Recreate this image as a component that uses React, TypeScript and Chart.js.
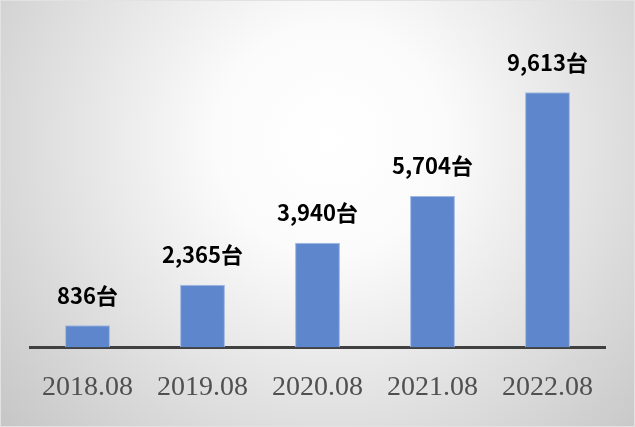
import React, { useEffect, useRef } from "react";
import { Chart, registerables } from "chart.js";

Chart.register(...registerables);

const categories = ["2018.08", "2019.08", "2020.08", "2021.08", "2022.08"];
const values = [836, 2365, 3940, 5704, 9613];
const valueLabels = ["836台", "2,365台", "3,940台", "5,704台", "9,613台"];

const bgPlugin = {
  id: "bgGradient",
  beforeDraw(chart: any) {
    const { ctx, width, height } = chart;
    ctx.save();
    const g = ctx.createRadialGradient(330, 140, 0, 330, 140, 460);
    g.addColorStop(0, "#ffffff");
    g.addColorStop(0.25, "#fbfbfb");
    g.addColorStop(1, "#c2c2c2");
    ctx.fillStyle = g;
    ctx.fillRect(0, 0, width, height);
    ctx.strokeStyle = "#e2e2e2";
    ctx.lineWidth = 1;
    ctx.strokeRect(0.5, 0.5, width - 1, height - 1);
    ctx.restore();
  },
};

const labelPlugin = {
  id: "valueLabels",
  afterDatasetsDraw(chart: any) {
    const { ctx } = chart;
    const meta = chart.getDatasetMeta(0);
    ctx.save();
    ctx.fillStyle = "#000000";
    ctx.font = "bold 22px 'Noto Sans CJK JP', sans-serif";
    ctx.textAlign = "center";
    ctx.textBaseline = "middle";
    meta.data.forEach((bar: any, i: number) => {
      ctx.fillText(valueLabels[i], bar.x, bar.y - 30);
    });
    ctx.restore();
  },
};

export default function App() {
  const ref = useRef<HTMLCanvasElement>(null);
  useEffect(() => {
    document.body.style.margin = "0";
    const chart = new Chart(ref.current!, {
      type: "bar",
      data: {
        labels: categories,
        datasets: [
          {
            data: values,
            backgroundColor: "#5E86CC",
            borderColor: "#9FB7E2",
            borderWidth: { top: 1, left: 1, right: 1, bottom: 0 },
            barPercentage: 0.39,
            categoryPercentage: 1,
          },
        ],
      },
      options: {
        animation: false,
        responsive: false,
        layout: { padding: { left: 30, right: 30, top: 29, bottom: 0 } },
        plugins: { legend: { display: false }, tooltip: { enabled: false } },
        scales: {
          y: { display: false, min: 0, max: 12000 },
          x: {
            grid: { display: false, drawTicks: false },
            border: { display: true, color: "#404040", width: 3 },
            ticks: {
              color: "#505050",
              padding: 23,
              font: { family: "'Liberation Serif', serif", size: 28 },
            },
          },
        },
      },
      plugins: [bgPlugin, labelPlugin],
    });
    return () => chart.destroy();
  }, []);
  return <canvas ref={ref} width={635} height={427} style={{ display: "block" }} />;
}
